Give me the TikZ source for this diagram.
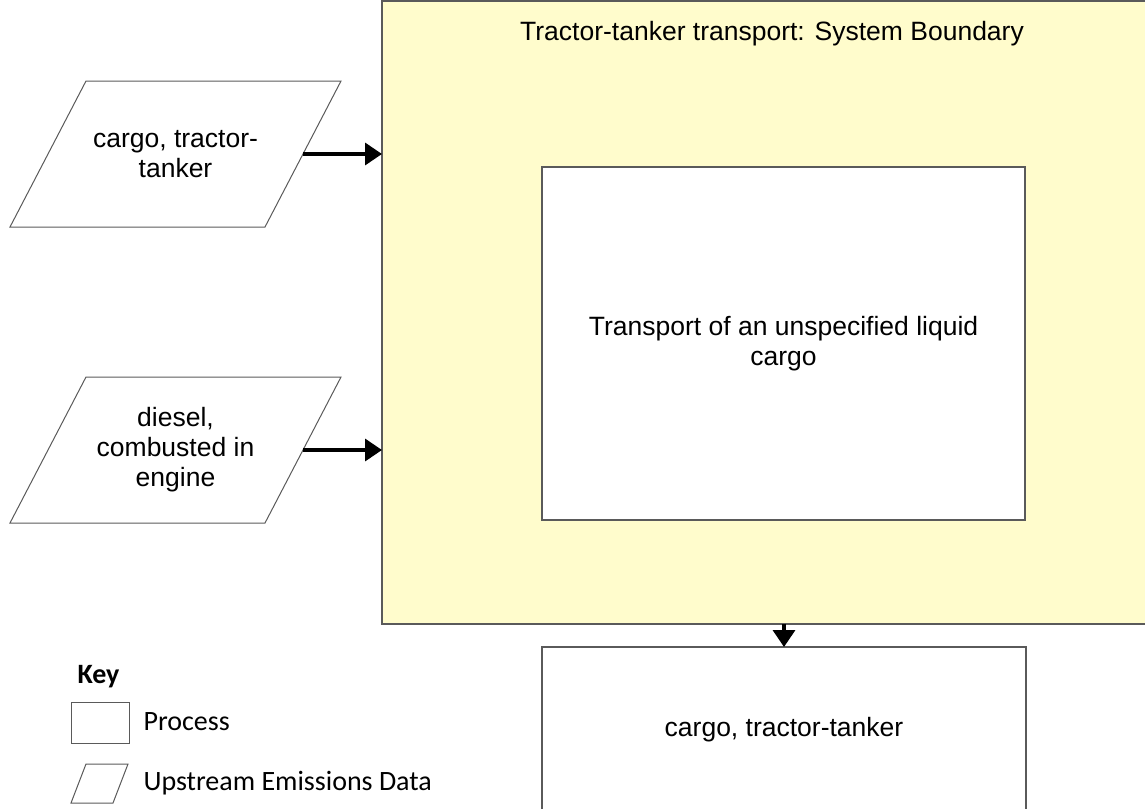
\documentclass[tikz,border=0pt]{standalone}
\usepackage{fontspec}
\setmainfont{Liberation Sans}
\newfontfamily\keyfont{Carlito}
\usetikzlibrary{arrows.meta}
\definecolor{boundaryfill}{RGB}{255,252,204}
\definecolor{edgegray}{RGB}{90,90,90}
\tikzset{/LCA/S/process/.style={
	shape=rectangle, draw=edgegray, line width=1.5pt, fill=white,
	inner sep=0pt, outer sep=0pt, anchor=north west, align=center
}}
\tikzset{/LCA/S/upstream/.style={
	shape=rectangle, inner sep=0pt, outer sep=0pt, align=center,
	append after command={\pgfextra{\pgfinterruptpath
		\draw[draw=edgegray, line width=1pt]
			([xshift=#1]\tikzlastnode.north west) -- (\tikzlastnode.north east)
			-- ([xshift=-#1]\tikzlastnode.south east) -- (\tikzlastnode.south west) -- cycle;
	\endpgfinterruptpath}}
}, /LCA/S/upstream/.default=76pt}
\tikzset{/LCA/S/flow/.style={
	line width=3.5pt, -{Triangle[length=17pt,width=22pt]}
}}

\begin{document}
\begin{tikzpicture}[x=1pt, y=-1pt, font=\fontsize{26.5}{30}\selectfont]
			\useasboundingbox (0,0) rectangle (1145,808);
			\path (382,1) node[/LCA/S/process, fill=boundaryfill, minimum width=780pt, minimum height=623pt] (boundary) {};
			\path (772,34) node (title) {Tractor-tanker transport: System Boundary};
			\path (542,167) node[/LCA/S/process, minimum width=483pt, minimum height=353pt] (transport) {Transport of an unspecified liquid\\cargo};
			\path (542,647) node[/LCA/S/process, minimum width=484pt, minimum height=166pt] (output) {cargo, tractor-tanker};
			\path (175.5,154) node[/LCA/S/upstream, minimum width=331pt, minimum height=146pt] (cargo) {cargo, tractor-\\tanker};
			\path (175.5,450) node[/LCA/S/upstream, minimum width=331pt, minimum height=146pt] (diesel) {diesel,\\combusted in\\engine};
			\draw[/LCA/S/flow] ([xshift=-38pt]cargo.east) -- (cargo.east -| boundary.west);
			\draw[/LCA/S/flow] ([xshift=-38pt]diesel.east) -- (diesel.east -| boundary.west);
			\draw[/LCA/S/flow] (output.north |- boundary.south) -- (output.north);
			% key
			\path (74,677) node[anchor=west, font=\keyfont\bfseries\fontsize{28}{32}\selectfont] (key) {Key};
			\path (71,702) node[/LCA/S/process, line width=1pt, minimum width=58pt, minimum height=41pt] (keyprocess) {};
			\path (140,722) node[anchor=west, font=\keyfont\fontsize{28}{32}\selectfont] (keyprocesstext) {Process};
			\path (99.5,783.5) node[/LCA/S/upstream=15pt, minimum width=57pt, minimum height=39pt] (keyupstream) {};
			\path (140,783) node[anchor=west, font=\keyfont\fontsize{28}{32}\selectfont] (keyupstreamtext) {Upstream Emissions Data};
		\end{tikzpicture}
\end{document}
